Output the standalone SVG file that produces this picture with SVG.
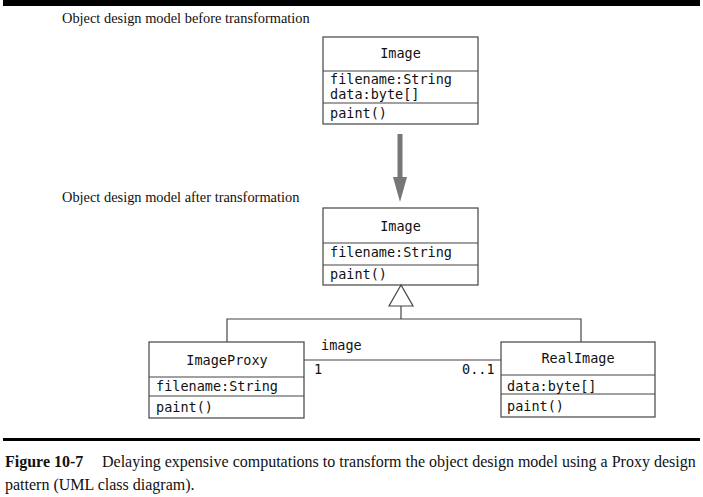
<svg xmlns="http://www.w3.org/2000/svg" width="703" height="497" viewBox="0 0 703 497">
<style>
.box{fill:#fff;stroke:#444;stroke-width:1.2}
.sep{stroke:#444;stroke-width:1.2;fill:none}
.mono{font-family:"DejaVu Sans Mono","Liberation Mono",monospace;font-size:13.5px;fill:#111}
.mid{text-anchor:middle}
.serif{font-family:"Liberation Serif","Times New Roman",serif;fill:#111}
.edge{stroke:#444;stroke-width:1.2;fill:none}
</style>
<rect width="703" height="497" fill="#fff"/>
<rect id="top-rule" x="3" y="0" width="697" height="6" fill="#000"/>
<text class="serif" x="62" y="23" font-size="14.4">Object design model before transformation</text>
<text class="serif" x="62" y="202" font-size="14.4">Object design model after transformation</text>

<g id="image-before">
<rect class="box" x="323" y="37" width="155" height="87"/>
<line class="sep" x1="323" y1="71" x2="478" y2="71"/>
<line class="sep" x1="323" y1="103" x2="478" y2="103"/>
<text class="mono mid" x="400.5" y="58">Image</text>
<text class="mono" x="330" y="84">filename:String</text>
<text class="mono" x="330" y="99">data:byte[]</text>
<text class="mono" x="330" y="118">paint()</text>
</g>

<g id="transform-arrow">
<rect x="397.5" y="134" width="5" height="45" fill="#777"/>
<polygon points="393,177 407,177 400,202" fill="#777"/>
</g>

<g id="image-after">
<rect class="box" x="323" y="208" width="155" height="77"/>
<line class="sep" x1="323" y1="243" x2="478" y2="243"/>
<line class="sep" x1="323" y1="265" x2="478" y2="265"/>
<text class="mono mid" x="400.5" y="231">Image</text>
<text class="mono" x="330" y="257">filename:String</text>
<text class="mono" x="330" y="279">paint()</text>
</g>

<g id="image-proxy">
<rect class="box" x="149" y="342" width="155" height="76"/>
<line class="sep" x1="149" y1="377" x2="304" y2="377"/>
<line class="sep" x1="149" y1="396" x2="304" y2="396"/>
<text class="mono mid" x="227" y="365">ImageProxy</text>
<text class="mono" x="156" y="391">filename:String</text>
<text class="mono" x="156" y="412">paint()</text>
</g>

<g id="real-image">
<rect class="box" x="501" y="342" width="154" height="75"/>
<line class="sep" x1="501" y1="375" x2="655" y2="375"/>
<line class="sep" x1="501" y1="394" x2="655" y2="394"/>
<text class="mono mid" x="578" y="363">RealImage</text>
<text class="mono" x="507" y="391">data:byte[]</text>
<text class="mono" x="507" y="411">paint()</text>
</g>

<g id="connectors">
<polygon points="401,285 389,306 413,306" fill="#fff" stroke="#444" stroke-width="1.2"/>
<polyline class="edge" points="401,306 401,319"/>
<polyline class="edge" points="227,342 227,319 581,319 581,342"/>
<line class="edge" x1="304" y1="360" x2="501" y2="360"/>
<text class="mono" x="321" y="350">image</text>
<text class="mono" x="314" y="374">1</text>
<text class="mono" x="462" y="374">0..1</text>
</g>

<rect x="3" y="438" width="697" height="3" fill="#000"/>
<text class="serif" x="5" y="467" font-size="16"><tspan font-weight="bold">Figure 10-7</tspan><tspan x="102">Delaying expensive computations to transform the object design model using a Proxy design</tspan></text>
<text class="serif" x="5" y="490" font-size="16">pattern (UML class diagram).</text>
</svg>
